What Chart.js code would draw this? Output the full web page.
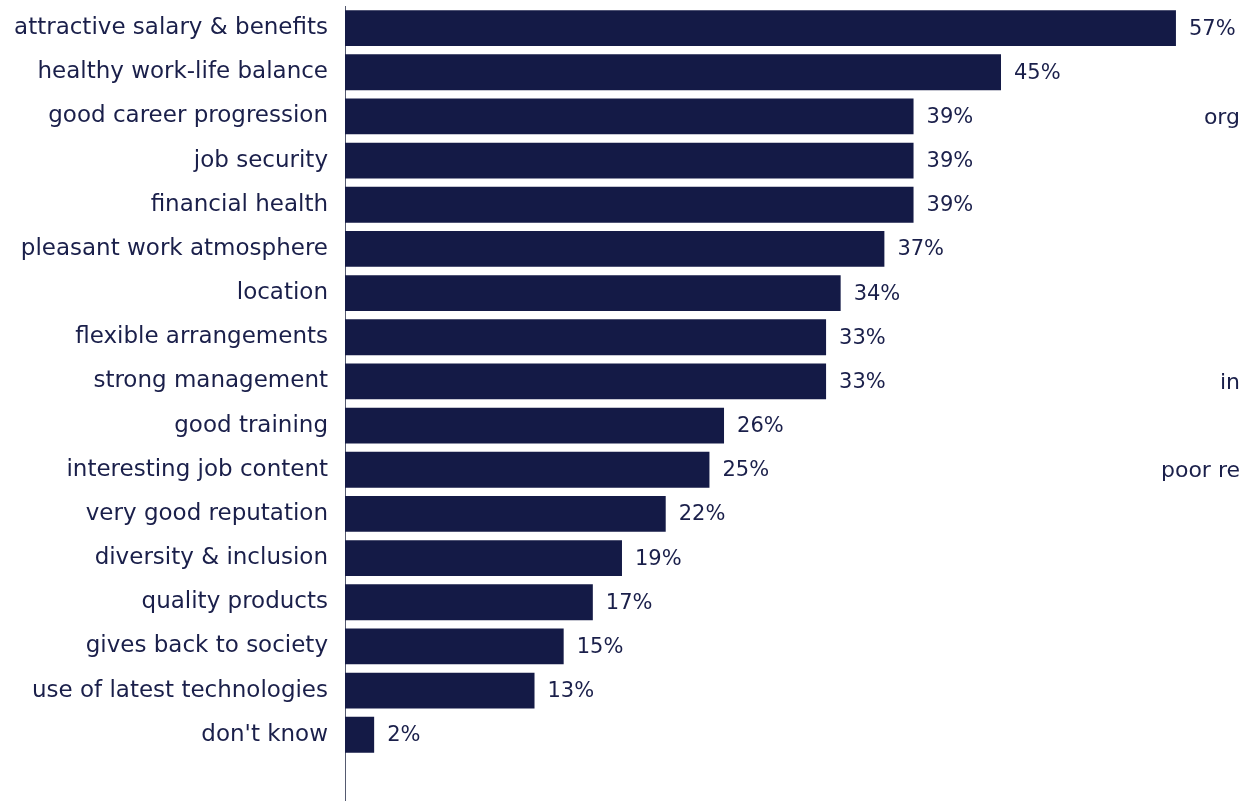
<!DOCTYPE html>
<html>
<head>
<meta charset="utf-8">
<script src="https://cdn.jsdelivr.net/npm/chart.js@4"></script>
<style>
  html, body { margin: 0; padding: 0; background: #fff; }
  #wrap { position: relative; width: 1243px; height: 801px; }
  .stray { position: absolute; right: 3px; font-family: "DejaVu Sans", sans-serif;
           font-size: 22px; color: #1a1f4a; line-height: 1; }
</style>
</head>
<body>
<div id="wrap">
  <canvas id="myChart" width="1243" height="801"></canvas>
  <span class="stray" style="top:106px">org</span>
  <span class="stray" style="top:371px">in</span>
  <span class="stray" style="top:459px">poor re</span>
</div>
<script>
// categories, top to bottom (last one is an empty slot below the bars)
const categories = [
    'attractive salary & benefits', 'healthy work-life balance', 'good career progression',
    'job security', 'financial health', 'pleasant work atmosphere', 'location',
    'flexible arrangements', 'strong management', 'good training', 'interesting job content',
    'very good reputation', 'diversity & inclusion', 'quality products', 'gives back to society',
    'use of latest technologies', "don't know", ''
];
const values = [ 57, 45, 39, 39, 39, 37, 34, 33, 33, 26, 25, 22, 19, 17, 15, 13, 2, null ];

const navy = '#141a46';
const font = '"DejaVu Sans", sans-serif';

const valueLabels = {
    id: 'valueLabels',
    afterDatasetsDraw(chart) {
        const ctx = chart.ctx;
        const meta = chart.getDatasetMeta(0);
        ctx.save();
        ctx.fillStyle = '#1a1f4a';
        ctx.font = '21px ' + font;
        ctx.textBaseline = 'middle';
        ctx.textAlign = 'left';
        meta.data.forEach((bar, i) => {
            if (values[i] == null) return;
            ctx.fillText(values[i] + '%', bar.x + 13, bar.y + 1);
        });
        ctx.restore();
    }
};

const ctx = document.getElementById('myChart').getContext('2d');

var myChart = new Chart(ctx, {
    type: 'bar',
    data: {
        labels: categories,
        datasets: [
            {
                data: values,
                backgroundColor: navy,
                barPercentage: 0.81,
                categoryPercentage: 1
            }
        ]
    },
    options: {
        indexAxis: 'y',
        responsive: false,
        animation: false,
        layout: { padding: { top: 6, right: 0, bottom: 0, left: 0 } },
        plugins: { legend: { display: false }, tooltip: { enabled: false } },
        scales: {
            x: {
                min: 0,
                max: 61.6,
                display: false
            },
            y: {
                afterFit(scale) {
                    scale.width = 345;
                    scale.paddingTop = 0;
                    scale.paddingBottom = 0;
                },
                grid: { display: false, drawTicks: false },
                border: { display: true, color: '#555a70', width: 1 },
                ticks: {
                    padding: 17,
                    color: '#1a1f4a',
                    font: { family: font, size: 23 }
                }
            }
        }
    },
    plugins: [ valueLabels ]
});
</script>
</body>
</html>
